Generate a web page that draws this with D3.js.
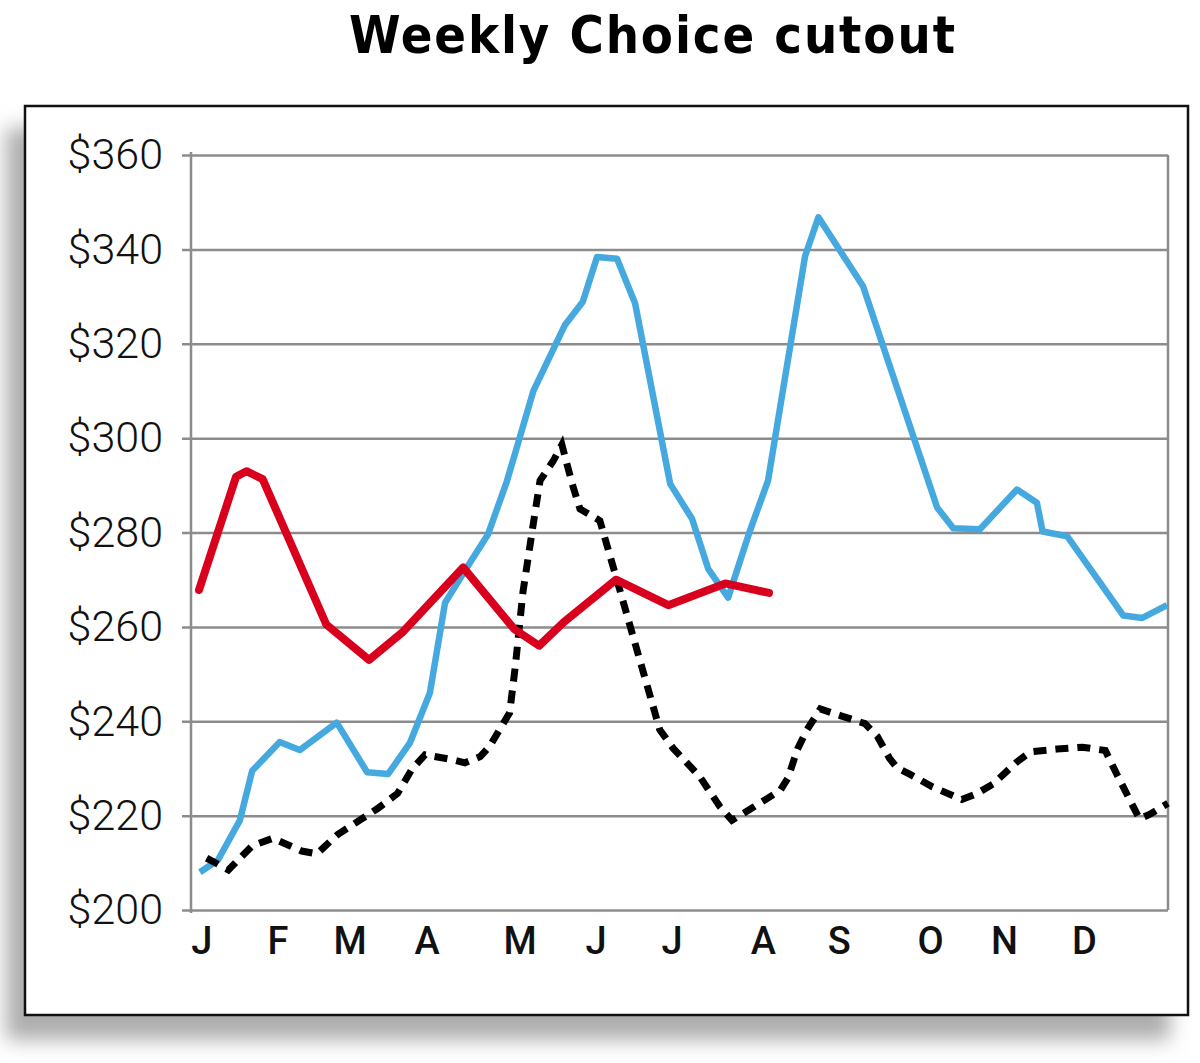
<!DOCTYPE html>
<html>
<head>
<meta charset="utf-8">
<script src="https://cdn.jsdelivr.net/npm/d3@7"></script>
<style>
  body { margin: 0; background: #fff; }
  svg { display: block; }
  .grid line { stroke: #8c8c8c; stroke-width: 2.5; }
  .grid text { font-family: Roboto, "Noto Sans", sans-serif; font-size: 43px; font-weight: 300; fill: #111; }
  .month { font-family: Roboto, "Noto Sans", sans-serif; font-size: 38px; font-weight: 500; fill: #111; }
</style>
</head>
<body>
<div id="chart"></div>
<script>
/* Weekly Choice cutout */

// y axis ticks ($)
var yTicks = [200, 220, 240, 260, 280, 300, 320, 340, 360];

// month labels and the week they sit at
var months = ["J", "F", "M", "A", "M", "J", "J", "A", "S", "O", "N", "D"];
var monthWeeks = [0.15, 4.15, 7.95, 12.0, 16.9, 20.9, 24.9, 29.7, 33.7, 38.5, 42.4, 46.6];

// blue line [week, $]
var blueSeries = [
  [0.05, 208], [1.0, 210.6], [2.15, 219], [2.8, 229.5], [4.25, 235.6], [5.3, 233.9],
  [7.25, 239.7], [8.85, 229.2], [9.95, 228.8], [11.1, 235.4], [12.15, 246], [12.95, 265.1],
  [14.1, 272.6], [15.2, 279.5], [16.2, 290.8], [17.6, 310], [19.25, 323.9], [20.2, 328.9],
  [20.95, 338.4], [22.0, 338], [22.95, 328.6], [24.8, 290.3], [25.95, 282.9], [26.8, 272.3],
  [27.85, 266.2], [29.0, 280.4], [29.95, 291], [31.9, 338.6], [32.6, 346.8], [34.95, 332.2],
  [38.85, 285.3], [39.7, 280.9], [41.1, 280.7], [43.05, 289.1], [44.1, 286.3], [44.4, 280.2],
  [45.7, 279.2], [48.65, 262.4], [49.65, 261.9], [50.95, 264.6]
];

// red line [week, $]
var redSeries = [
  [0, 267.8], [1.95, 291.8], [2.5, 293.0], [3.35, 291.3], [6.7, 260.5], [8.95, 253],
  [10.75, 259], [13.9, 272.6], [16.6, 259.5], [17.9, 256], [19.2, 261], [21.95, 270],
  [24.7, 264.6], [27.7, 269.2], [30.0, 267.2]
];

// black dashed line [week, $]
var blackSeries = [
  [0.4, 211], [1.55, 208.5], [2.8, 213.6], [3.9, 215.2], [5.4, 212.5], [6.2, 211.9],
  [7.3, 216], [9.4, 221.5], [10.45, 224.7], [11.2, 229.8], [11.9, 232.9], [13.3, 231.9],
  [14.0, 231.2], [14.8, 232.5], [15.3, 234.7], [16.35, 241.8], [16.65, 251.7], [17.05, 267.4],
  [17.6, 282], [17.95, 291], [18.65, 295.2], [19.1, 298.6], [19.65, 290.2], [20.05, 285],
  [21.1, 282.5], [22.05, 269.2], [24.25, 238.2], [24.95, 234.3], [26.35, 228.3], [27.4, 222],
  [28.05, 219], [29.15, 221.7], [30.6, 225.4], [31.0, 228], [31.5, 234.1], [32.0, 238.2],
  [32.7, 242.6], [33.75, 241.2], [35.05, 239.5], [35.7, 236.8], [36.35, 232.1], [36.75, 230.1],
  [37.4, 228.8], [38.6, 226.1], [40.15, 223.4], [40.95, 224.7], [41.8, 226.7], [43.05, 231.4],
  [43.75, 233.5], [45.15, 234.1], [46.5, 234.5], [47.7, 233.8], [48.3, 228.8], [49.5, 219.3],
  [50.05, 220.3], [51.0, 222.6]
];

var svg = d3.select("#chart").append("svg")
            .attr("width", 1200)
            .attr("height", 1063);

// drop shadow behind the frame
var defs = svg.append("defs");
defs.append("filter")
    .attr("id", "blur")
    .attr("x", "-10%").attr("y", "-10%")
    .attr("width", "120%").attr("height", "120%")
  .append("feGaussianBlur")
    .attr("stdDeviation", 10);

svg.append("rect")
   .attr("x", 6).attr("y", 128)
   .attr("width", 1164).attr("height", 912)
   .attr("fill", "#adadad")
   .attr("filter", "url(#blur)");

svg.append("rect")
   .attr("x", 25).attr("y", 106)
   .attr("width", 1163).attr("height", 909)
   .attr("fill", "#fff")
   .attr("stroke", "#111")
   .attr("stroke-width", 2.5);

// title
svg.append("text")
   .attr("x", 652)
   .attr("y", 53)
   .attr("text-anchor", "middle")
   .attr("font-family", "'DejaVu Sans Condensed', 'DejaVu Sans', sans-serif")
   .attr("font-weight", "bold")
   .attr("font-size", 52)
   .attr("textLength", 606)
   .attr("lengthAdjust", "spacing")
   .attr("fill", "#000")
   .text("Weekly Choice cutout");

// scales
var plotLeft = 191, plotRight = 1168, plotTop = 155, plotBottom = 910;

var x = d3.scaleLinear()
          .domain([0, 51])
          .range([199, plotRight]);

var y = d3.scaleLinear()
          .domain([200, 360])
          .range([plotBottom, plotTop]);

// gridlines + y labels
var yAxis = d3.axisLeft(y)
              .tickValues(yTicks)
              .tickSize(-(plotRight - plotLeft + 9))
              .tickPadding(19)
              .tickFormat(function(d) { return "$" + d; });

var gy = svg.append("g")
            .attr("class", "grid")
            .attr("transform", "translate(" + (plotLeft - 9) + ",0)")
            .call(yAxis);
gy.select(".domain").remove();
gy.selectAll("text").attr("font-size", null).attr("font-family", null).attr("fill", null);

// frame verticals
svg.append("line")
   .attr("x1", plotLeft).attr("x2", plotLeft)
   .attr("y1", plotTop - 3).attr("y2", plotBottom + 3)
   .attr("stroke", "#8c8c8c").attr("stroke-width", 2.5);
svg.append("line")
   .attr("x1", plotRight).attr("x2", plotRight)
   .attr("y1", plotTop).attr("y2", plotBottom)
   .attr("stroke", "#8c8c8c").attr("stroke-width", 2.5);

// month labels
svg.selectAll("text.month")
   .data(months)
   .enter()
   .append("text")
   .attr("class", "month")
   .attr("x", function(d, i) { return x(monthWeeks[i]); })
   .attr("y", 954)
   .attr("text-anchor", "middle")
   .text(function(d) { return d; });

var line = d3.line()
             .x(function(d) { return x(d[0]); })
             .y(function(d) { return y(d[1]); });

// lines
svg.append("path")
   .datum(blueSeries)
   .attr("fill", "none")
   .attr("stroke", "#45a9e0")
   .attr("stroke-width", 6.5)
   .attr("stroke-linejoin", "round")
   .attr("d", line);

svg.append("path")
   .datum(blackSeries)
   .attr("fill", "none")
   .attr("stroke", "#000")
   .attr("stroke-width", 7)
   .attr("stroke-dasharray", "13,9")
   .attr("d", line);

svg.append("path")
   .datum(redSeries)
   .attr("fill", "none")
   .attr("stroke", "#d9001e")
   .attr("stroke-width", 8)
   .attr("stroke-linejoin", "round")
   .attr("stroke-linecap", "round")
   .attr("d", line);
</script>
</body>
</html>
